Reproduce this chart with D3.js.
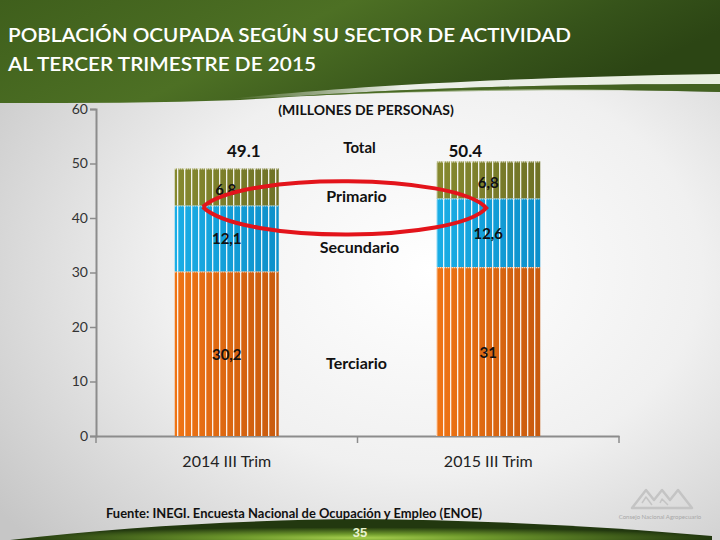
<!DOCTYPE html>
<html><head><meta charset="utf-8">
<script src="https://cdn.jsdelivr.net/npm/d3@7"></script>
<style>body{margin:0;}svg{display:block;}</style>
</head><body>
<script>
const categories = ["2014 III Trim", "2015 III Trim"];
const sectors = ["Terciario", "Secundario", "Primario"];
const terciario = [30.2, 31];
const secundario = [12.1, 12.6];
const primario = [6.8, 6.8];
const totals = ["49.1", "50.4"];
const segLabels = [["30,2", "12,1", "6,8"], ["31", "12,6", "6,8"]];
const yTicks = [0, 10, 20, 30, 40, 50, 60];

const W = 720, H = 540;
const svg = d3.select("body").append("svg").attr("width", W).attr("height", H);
const defs = svg.append("defs");

// background
const bg = defs.append("radialGradient").attr("id", "bg").attr("cx", "0.6").attr("cy", "0.5").attr("r", "0.75");
bg.append("stop").attr("offset", "0").attr("stop-color", "#ffffff");
bg.append("stop").attr("offset", "0.5").attr("stop-color", "#f0f0f0");
bg.append("stop").attr("offset", "1").attr("stop-color", "#c6c6c6");
svg.append("rect").attr("width", W).attr("height", H).attr("fill", "url(#bg)");

// header
const hg = defs.append("linearGradient").attr("id", "hg").attr("x1", "0").attr("y1", "0").attr("x2", "1").attr("y2", "0.3");
hg.append("stop").attr("offset", "0").attr("stop-color", "#3f5f1c");
hg.append("stop").attr("offset", "0.45").attr("stop-color", "#4d7024");
hg.append("stop").attr("offset", "0.8").attr("stop-color", "#36531a");
hg.append("stop").attr("offset", "1").attr("stop-color", "#2c4514");
svg.append("path").attr("fill", "url(#hg)")
  .attr("d", "M0,0H720V92C640,90 560,88 480,90C380,92 300,96 240,100C160,103 80,103 0,103Z");
const sw = defs.append("linearGradient").attr("id", "sw").attr("x1", "0").attr("x2", "1");
sw.append("stop").attr("offset", "0").attr("stop-color", "#ffffff").attr("stop-opacity", "0");
sw.append("stop").attr("offset", "0.35").attr("stop-color", "#ffffff").attr("stop-opacity", "0.9");
sw.append("stop").attr("offset", "1").attr("stop-color", "#e8efe0").attr("stop-opacity", "1");
svg.append("path").attr("fill", "url(#sw)")
  .attr("d", "M230,99C330,88 480,78 720,74V84C560,84 420,88 300,96Z");
svg.append("path").attr("fill", "#587a2c").attr("opacity", 0.55)
  .attr("d", "M300,96C420,88 560,84 720,84V92C600,89 460,90 300,96Z");

// title
const title = svg.append("g").attr("fill", "#ffffff").style("font-family", "Lato, 'Open Sans', sans-serif").style("font-size", "20px").style("font-weight", "600");
title.append("text").attr("x", 8).attr("y", 42).attr("textLength", 563).attr("lengthAdjust", "spacingAndGlyphs").text("POBLACIÓN OCUPADA SEGÚN SU SECTOR DE ACTIVIDAD");
title.append("text").attr("x", 8).attr("y", 71).attr("textLength", 308).attr("lengthAdjust", "spacingAndGlyphs").text("AL TERCER TRIMESTRE DE 2015");

// bottom band
const bb = defs.append("radialGradient").attr("id", "bb").attr("cx", "0.5").attr("cy", "0.9").attr("r", "0.5");
bb.append("stop").attr("offset", "0").attr("stop-color", "#a6cf4e");
bb.append("stop").attr("offset", "0.35").attr("stop-color", "#6f9a2c");
bb.append("stop").attr("offset", "1").attr("stop-color", "#22380f");
svg.append("path").attr("fill", "url(#bb)")
  .attr("d", "M10,540C120,527 240,520 360,519C480,520 600,526 712,536V540Z");

// scales
const x = d3.scaleBand().domain(categories).range([96, 619]).paddingInner(0).paddingOuter(0);
const barW = 104;
const y = d3.scaleLinear().domain([0, 60]).range([436, 109]);

// axes
const axisColor = "#8c8c8c";
const yAxis = svg.append("g").attr("transform", "translate(96,0)")
  .call(d3.axisLeft(y).tickValues(yTicks).tickSize(6).tickPadding(2).tickFormat(d3.format("d")));
yAxis.select(".domain").attr("stroke", axisColor).attr("stroke-width", 2);
yAxis.selectAll(".tick line").attr("stroke", axisColor).attr("stroke-width", 1.5);
yAxis.selectAll(".tick text").attr("fill", "#333").style("font-family", "Lato, sans-serif").style("font-size", "14px");

const xAxis = svg.append("g").attr("transform", "translate(0,436)")
  .call(d3.axisBottom(x).tickSize(0).tickPadding(20));
xAxis.select(".domain").attr("stroke", axisColor).attr("stroke-width", 2);
xAxis.selectAll(".tick text").attr("fill", "#222").style("font-family", "Lato, sans-serif").style("font-size", "16px");
const bounds = [x.range()[0], x(categories[1]), x.range()[1]];
svg.append("g").selectAll("line").data(bounds).join("line")
  .attr("x1", d => d).attr("x2", d => d).attr("y1", 436).attr("y2", 443)
  .attr("stroke", axisColor).attr("stroke-width", 1.5);

// colour gradients
const colors = { Terciario: ["#f07414", "#c85a0e"], Secundario: ["#1aaee6", "#0c8fca"], Primario: ["#86892f", "#6f7226"] };
sectors.forEach(s => {
  const g = defs.append("linearGradient").attr("id", "g" + s).attr("x1", "0").attr("x2", "1");
  g.append("stop").attr("offset", "0").attr("stop-color", colors[s][0]);
  g.append("stop").attr("offset", "1").attr("stop-color", colors[s][1]);
});

// stripe pattern
const pat = defs.append("pattern").attr("id", "stripes").attr("patternUnits", "userSpaceOnUse")
  .attr("width", 7).attr("height", 10);
pat.append("rect").attr("x", 2).attr("y", 0).attr("width", 1.3).attr("height", 10).attr("fill", "#ffffff").attr("opacity", 0.9);

const stackData = categories.map((c, i) => ({ cat: c, Terciario: terciario[i], Secundario: secundario[i], Primario: primario[i] }));
const series = d3.stack().keys(sectors)(stackData);

const bars = svg.append("g");
series.forEach((ser, si) => {
  ser.forEach((d, i) => {
    const cx = x(categories[i]) + x.bandwidth() / 2;
    const x0 = cx - barW / 2;
    bars.append("rect").attr("x", x0).attr("y", y(d[1])).attr("width", barW).attr("height", y(d[0]) - y(d[1]))
      .attr("fill", "url(#g" + ser.key + ")");
    bars.append("rect").attr("x", x0).attr("y", y(d[1])).attr("width", barW).attr("height", y(d[0]) - y(d[1]))
      .attr("fill", "url(#stripes)");
    bars.append("line").attr("x1", x0).attr("x2", x0 + barW).attr("y1", y(d[1]) + 0.5).attr("y2", y(d[1]) + 0.5)
      .attr("stroke", "#ffffff").attr("stroke-width", 1.2).attr("stroke-dasharray", "1,1");
  });
});

// labels
const font = "Lato, 'Open Sans', sans-serif";
const lab = svg.append("g").style("font-family", font).style("font-weight", "bold").attr("text-anchor", "middle").attr("fill", "#111");
series.forEach((ser, si) => {
  ser.forEach((d, i) => {
    const cx = x(categories[i]) + x.bandwidth() / 2;
    let ly;
    if (si === 0) ly = y(d[0] + (d[1] - d[0]) * 0.5) + 6;
    else if (si === 1) ly = y(d[0] + (d[1] - d[0]) * 0.5) + 6;
    else ly = y(d[0] + (d[1] - d[0]) * 0.45) + 6;
    lab.append("text").attr("x", cx + (si === 2 && i === 0 ? -1 : 0)).attr("y", ly)
      .style("font-size", "15px").text(segLabels[i][si]);
  });
});
categories.forEach((c, i) => {
  const cx = x(c) + x.bandwidth() / 2;
  const tot = terciario[i] + secundario[i] + primario[i];
  lab.append("text").attr("x", cx + (i === 0 ? 17 : -23)).attr("y", y(tot) - (i === 0 ? 11 : 4)).style("font-size", "17px").text(totals[i]);
});
const mid = x(categories[1]);
lab.append("text").attr("x", mid + 2).attr("y", 153).style("font-size", "15px").text("Total");
lab.append("text").attr("x", 366).attr("y", 115).style("font-size", "14px").text("(MILLONES DE PERSONAS)");
lab.append("text").attr("x", mid - 1).attr("y", y(primario[0] / 2 + secundario[0] + terciario[0]) + 15).style("font-size", "16px").text("Primario");
lab.append("text").attr("x", mid + 2).attr("y", y(secundario[0] / 2 + terciario[0]) + 15).style("font-size", "16px").text("Secundario");
lab.append("text").attr("x", mid - 1).attr("y", y(terciario[0] * 0.5) + 15).style("font-size", "16px").text("Terciario");

// red highlight ellipse
const yL = y(42.3) + 1.5, yR = y(42.3) + 2.5;
const xL = x(categories[0]) + x.bandwidth() / 2 - 24, xR = x(categories[1]) + x.bandwidth() / 2 - 2;
const p = d3.path();
p.moveTo(xL, yL);
p.bezierCurveTo(xL + 40, yL - 36, xR - 30, yR - 34, xR, yR);
p.bezierCurveTo(xR - 30, yR + 34, xL + 40, yL + 38, xL, yL);
svg.append("path").attr("d", p.toString()).attr("fill", "none").attr("stroke", "#e3141b").attr("stroke-width", 4);

// source
svg.append("text").attr("x", 106).attr("y", 518).attr("textLength", 376).attr("lengthAdjust", "spacingAndGlyphs")
  .style("font-family", font).style("font-size", "13px").style("font-weight", "bold").attr("fill", "#111")
  .text("Fuente: INEGI. Encuesta Nacional de Ocupación y Empleo (ENOE)");
svg.append("text").attr("x", 360).attr("y", 537).attr("text-anchor", "middle")
  .style("font-family", "'Liberation Sans', Arial, sans-serif").style("font-size", "13px").style("font-weight", "bold")
  .attr("fill", "#e8f2d0").text("35");

// logo
const logo = svg.append("g").attr("fill", "none").attr("stroke", "#c4c4c4").attr("stroke-width", 2.5).attr("stroke-linejoin", "round");
logo.append("path").attr("d", "M632,508L646,490L654,500L662,490L670,500L678,490L692,508Z");
logo.append("path").attr("d", "M642,503L646,497L652,505M660,503L662,499L668,505").attr("stroke-width", 1.5);
svg.append("text").attr("x", 660).attr("y", 519).attr("text-anchor", "middle").style("font-family", font)
  .style("font-size", "6px").attr("fill", "#a8a8a8").text("Consejo Nacional Agropecuario");
</script>
</body></html>
